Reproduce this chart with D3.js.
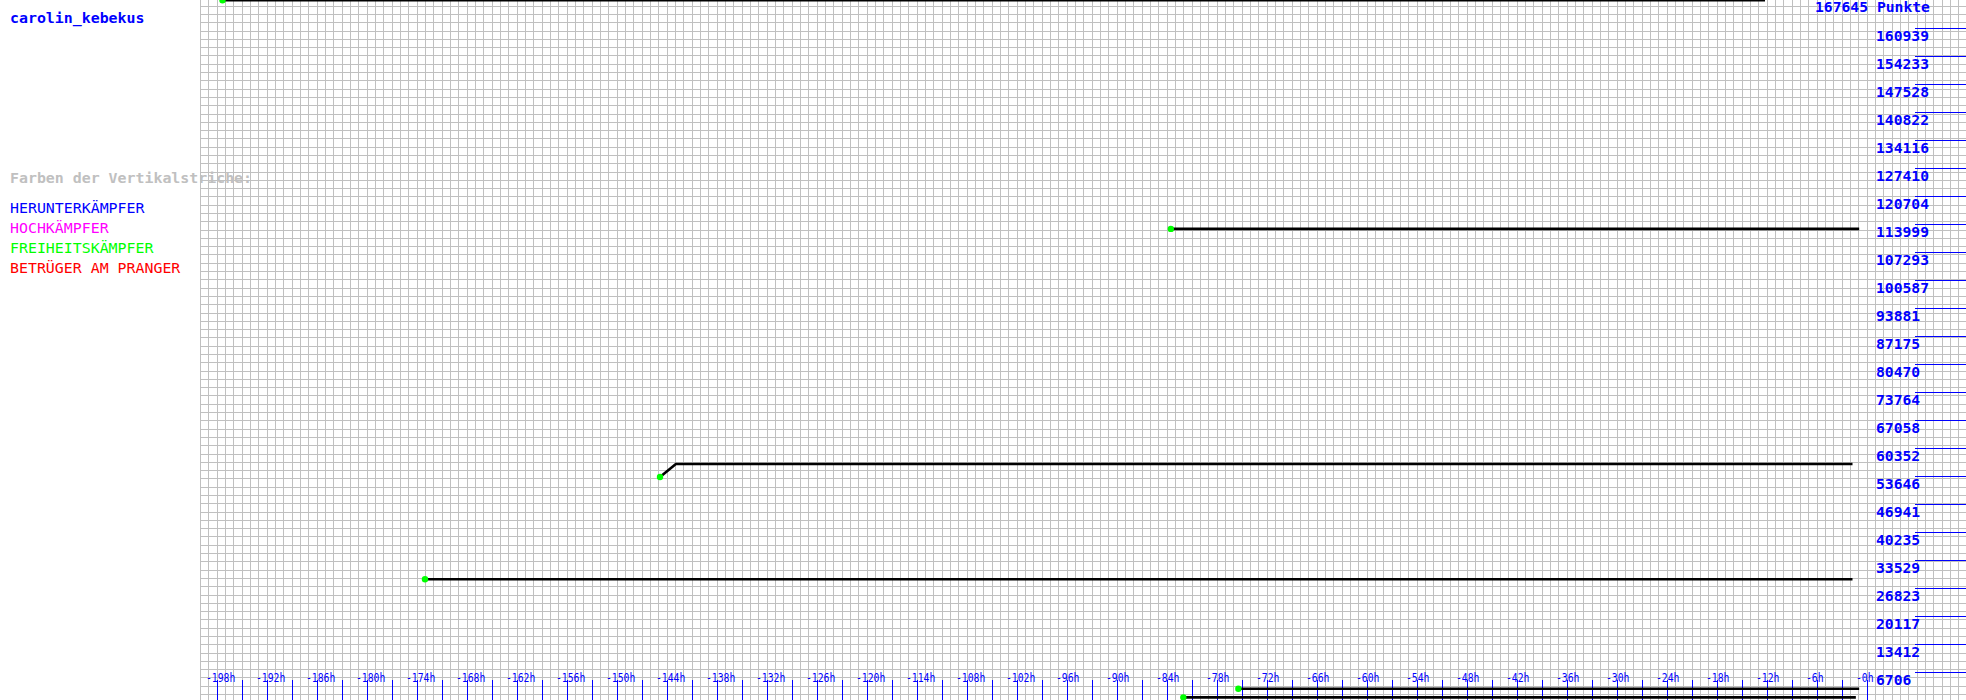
<!DOCTYPE html>
<html>
<head>
<meta charset="utf-8">
<script src="https://cdn.jsdelivr.net/npm/d3@7"></script>
<style>
  html, body { margin: 0; padding: 0; background: #fff; }
  svg { display: block; }
  text { font-family: "DejaVu Sans Mono", monospace; }
</style>
</head>
<body>
<script>
// ---------- data ----------
const playerName = "carolin_kebekus";
const maxPoints = 167645;
const maxLabel = "167645 Punkte";
const legendTitle = "Farben der Vertikalstriche:";
const legendItems = ["HERUNTERKÄMPFER", "HOCHKÄMPFER", "FREIHEITSKÄMPFER", "BETRÜGER AM PRANGER"];
const legendColors = ["#0000ff", "#ff00ff", "#00ff00", "#ff0000"];

const yTickValues = [6706, 13412, 20117, 26823, 33529, 40235, 46941, 53646, 60352, 67058, 73764, 80470,
  87175, 93881, 100587, 107293, 113999, 120704, 127410, 134116, 140822, 147528, 154233, 160939];
const yTickLabels = ["6706", "13412", "20117", "26823", "33529", "40235", "46941", "53646", "60352", "67058",
  "73764", "80470", "87175", "93881", "100587", "107293", "113999", "120704", "127410", "134116",
  "140822", "147528", "154233", "160939"];

const xLabelHours = [-198, -192, -186, -180, -174, -168, -162, -156, -150, -144, -138, -132, -126, -120,
  -114, -108, -102, -96, -90, -84, -78, -72, -66, -60, -54, -48, -42, -36, -30, -24, -18, -12, -6, 0];
const xLabelTexts = ["-198h", "-192h", "-186h", "-180h", "-174h", "-168h", "-162h", "-156h", "-150h", "-144h",
  "-138h", "-132h", "-126h", "-120h", "-114h", "-108h", "-102h", "-96h", "-90h", "-84h", "-78h", "-72h",
  "-66h", "-60h", "-54h", "-48h", "-42h", "-36h", "-30h", "-24h", "-18h", "-12h", "-6h", "-0h"];
const xMinorTickHours = [-198, -195, -192, -189, -186, -183, -180, -177, -174, -171, -168, -165, -162, -159,
  -156, -153, -150, -147, -144, -141, -138, -135, -132, -129, -126, -123, -120, -117, -114, -111, -108,
  -105, -102, -99, -96, -93, -90, -87, -84, -81, -78, -75, -72, -69, -66, -63, -60, -57, -54, -51, -48,
  -45, -42, -39, -36, -33, -30, -27, -24, -21, -18, -15, -12, -9, -6, -3, 0];

// score lines: [hour, points]
const seriesA = [[-197.3, 167645], [-12.2, 167645]];
const seriesB = [[-83.5, 112900], [-0.9, 112900]];
const seriesC = [[-144.8, 53480], [-142.9, 56590], [-1.7, 56590]];
const seriesD = [[-173.0, 29000], [-1.7, 29000]];
const seriesE = [[-75.4, 2750], [-0.9, 2750]];
const seriesF = [[-82.0, 700], [-1.3, 700]];
const allSeries = [seriesA, seriesB, seriesC, seriesD, seriesE, seriesF];

// ---------- chart ----------
const W = 1966, H = 700;
const svg = d3.select("body").append("svg").attr("width", W).attr("height", H);

const x = d3.scaleLinear().domain([-200, 0]).range([200, 1866.67]);
const y = d3.scaleLinear().domain([0, maxPoints]).range([700.3, 0.3]);

// grid
const grid = svg.append("g").attr("stroke", "#c0c0c0").attr("stroke-width", 1).attr("shape-rendering", "crispEdges");
d3.range(-200, 12.01, 1).forEach(h => {
  const px = Math.round(x(h)) + 0.5;
  grid.append("line").attr("x1", px).attr("x2", px).attr("y1", 0).attr("y2", H);
});
d3.range(0, 85).forEach(i => {
  const py = Math.round(5.7 + i * 8.293) + 0.5;
  if (py < H) grid.append("line").attr("x1", 200).attr("x2", W).attr("y1", py).attr("y2", py);
});

// right value ticks
const yt = svg.append("g");
yt.selectAll("line").data(yTickValues).join("line")
  .attr("x1", 1915).attr("x2", W)
  .attr("y1", d => Math.round(y(d)) + 0.5).attr("y2", d => Math.round(y(d)) + 0.5)
  .attr("stroke", "#0000ff").attr("stroke-width", 1).attr("shape-rendering", "crispEdges");
yt.selectAll("text").data(yTickValues).join("text")
  .attr("x", 1876).attr("y", d => y(d) + 12.4)
  .attr("fill", "#0000ff").attr("font-size", "14.7px").attr("font-weight", "bold")
  .text((d, i) => yTickLabels[i]);

svg.append("text").attr("x", 1815).attr("y", 12.2)
  .attr("fill", "#0000ff").attr("font-size", "14.7px").attr("font-weight", "bold")
  .text(maxLabel);

// bottom time ticks
const xt = svg.append("g");
xt.selectAll("line").data(xMinorTickHours).join("line")
  .attr("x1", d => Math.round(x(d)) + 0.5).attr("x2", d => Math.round(x(d)) + 0.5)
  .attr("y1", 680).attr("y2", H)
  .attr("stroke", "#0000ff").attr("stroke-width", 1).attr("shape-rendering", "crispEdges");
xt.selectAll("text").data(xLabelHours).join("text")
  .attr("x", d => x(d) - 10.7).attr("y", 682)
  .attr("fill", "#0000ff").attr("font-size", "11.4px")
  .attr("textLength", (d, i) => xLabelTexts[i].length * 5.87).attr("lengthAdjust", "spacingAndGlyphs")
  .text((d, i) => xLabelTexts[i]);

// lines
const line = d3.line().x(d => x(d[0])).y(d => y(d[1]));
svg.append("g").selectAll("path").data(allSeries).join("path")
  .attr("d", line).attr("fill", "none").attr("stroke", "#000").attr("stroke-width", 2.6);
svg.append("g").selectAll("circle").data(allSeries).join("circle")
  .attr("cx", d => x(d[0][0])).attr("cy", d => y(d[0][1])).attr("r", 3.2)
  .attr("fill", "#00ff00");

// left texts
svg.append("text").attr("x", 10).attr("y", 22.5)
  .attr("fill", "#0000ff").attr("font-size", "14.9px").attr("font-weight", "bold")
  .text(playerName);
svg.append("text").attr("x", 10).attr("y", 183)
  .attr("fill", "#c0c0c0").attr("font-size", "14.9px").attr("font-weight", "bold")
  .text(legendTitle);
svg.append("g").selectAll("text").data(legendItems).join("text")
  .attr("x", 10).attr("y", (d, i) => 213 + i * 20)
  .attr("fill", (d, i) => legendColors[i]).attr("font-size", "14.9px")
  .text(d => d);
</script>
</body>
</html>
